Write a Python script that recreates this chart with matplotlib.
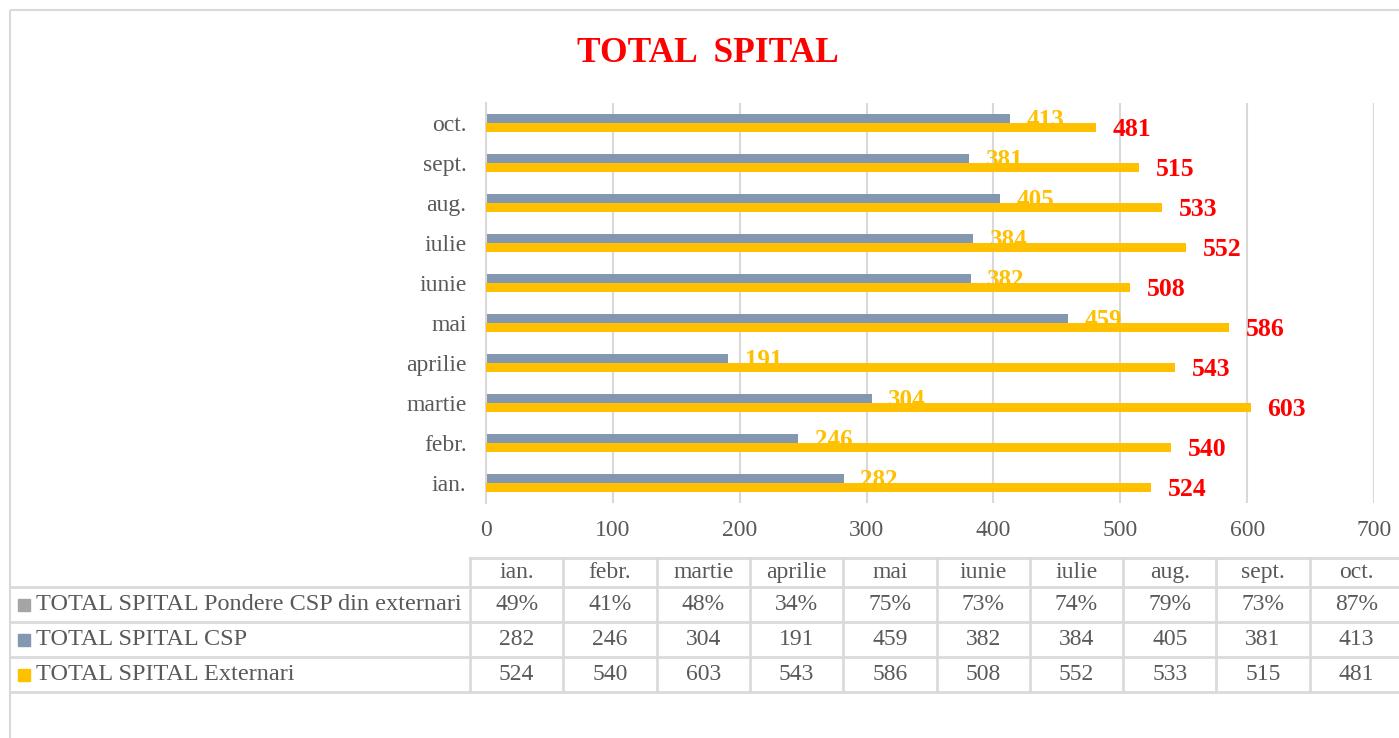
import numpy as np
import matplotlib
matplotlib.use("Agg")
import matplotlib.pyplot as plt
from matplotlib.patches import Rectangle

plt.rcParams['font.family'] = ['Liberation Serif', 'DejaVu Serif']

months = ['ian.', 'febr.', 'martie', 'aprilie', 'mai', 'iunie', 'iulie', 'aug.', 'sept.', 'oct.']
csp = [282, 246, 304, 191, 459, 382, 384, 405, 381, 413]
externari = [524, 540, 603, 543, 586, 508, 552, 533, 515, 481]
pondere = ['49%', '41%', '48%', '34%', '75%', '73%', '74%', '79%', '73%', '87%']
series_names = ['TOTAL SPITAL Pondere CSP din externari', 'TOTAL SPITAL CSP', 'TOTAL SPITAL Externari']

c_csp = '#8497B0'
c_ext = '#FFC000'
c_pond = '#A5A5A5'
c_txt = '#595959'
c_grid = '#D9D9D9'
fs = 17

W, H = 1399, 738
fig = plt.figure(figsize=(W / 100, H / 100), dpi=100)

# overlay in pixel coords for border + data table
ov = fig.add_axes([0, 0, 1, 1], zorder=-1)
ov.set_xlim(0, W)
ov.set_ylim(H, 0)
ov.axis('off')
ov.add_patch(Rectangle((10, 10), W + 20, H + 20, fill=False, ec=c_grid, lw=1.5))

# chart
ax = fig.add_axes([486 / W, 1 - 503 / H, (1374 - 486) / W, (503 - 103) / H])
y = np.arange(len(months))
h = 0.22
ax.barh(y + h / 2, csp, height=h, color=c_csp, zorder=2)
ax.barh(y - h / 2, externari, height=h, color=c_ext, zorder=3)
for i in range(len(months)):
    ax.annotate(str(csp[i]), (csp[i], y[i] + h / 2), xytext=(12, -6), textcoords='offset points',
                ha='left', va='baseline', color=c_ext, fontsize=18, fontweight='bold', zorder=2.5)
    ax.annotate(str(externari[i]), (externari[i], y[i] - h / 2), xytext=(12, -6.5), textcoords='offset points',
                ha='left', va='baseline', color='#FF0000', fontsize=18.5, fontweight='bold', zorder=4)

ax.set_xlim(0, 700)
ax.set_ylim(-0.5, len(months) - 0.5)
ax.set_xticks(np.arange(0, 701, 100))
ax.set_yticks(y)
ax.set_yticklabels(months)
ax.tick_params(axis='both', length=0, labelsize=fs, labelcolor=c_txt)
ax.tick_params(axis='x', pad=12)
ax.tick_params(axis='y', pad=14)
ax.xaxis.grid(True, color=c_grid, lw=1.5, zorder=0)
ax.set_axisbelow(True)
for s in ['top', 'right', 'bottom']:
    ax.spines[s].set_visible(False)
ax.spines['left'].set_color(c_grid)
ax.spines['left'].set_linewidth(1.5)

fig.text(708 / W, 1 - 53 / H, 'TOTAL  SPITAL', ha='center', va='center', color='#FF0000',
         fontsize=25.5, fontweight='bold')

# data table
col_x = [470 + k * 93.3 for k in range(len(months) + 1)]
row_y = [558, 587, 622, 657, 692]
lc = '#DADADA'
ov.plot([col_x[0], W], [row_y[0], row_y[0]], color=lc, lw=2)
for ry in row_y[1:]:
    ov.plot([10, W], [ry, ry], color=lc, lw=2)
for cx in col_x:
    ov.plot([cx, cx], [row_y[0], row_y[-1]], color=lc, lw=2)

for k, m in enumerate(months):
    cx = (col_x[k] + col_x[k + 1]) / 2
    ov.text(cx, (row_y[0] + row_y[1]) / 2, m, ha='center', va='center', fontsize=fs, color=c_txt)
    rows = [pondere[k], str(csp[k]), str(externari[k])]
    for r, val in enumerate(rows):
        ov.text(cx, (row_y[r + 1] + row_y[r + 2]) / 2, val, ha='center', va='center',
                fontsize=fs, color=c_txt)

for r, (name, col) in enumerate(zip(series_names, [c_pond, c_csp, c_ext])):
    cy = (row_y[r + 1] + row_y[r + 2]) / 2
    ov.add_patch(Rectangle((18, cy - 6), 12, 12, color=col))
    ov.text(36, cy, name, ha='left', va='center', fontsize=17.5, color=c_txt)

fig.savefig('out.png', dpi=100)
